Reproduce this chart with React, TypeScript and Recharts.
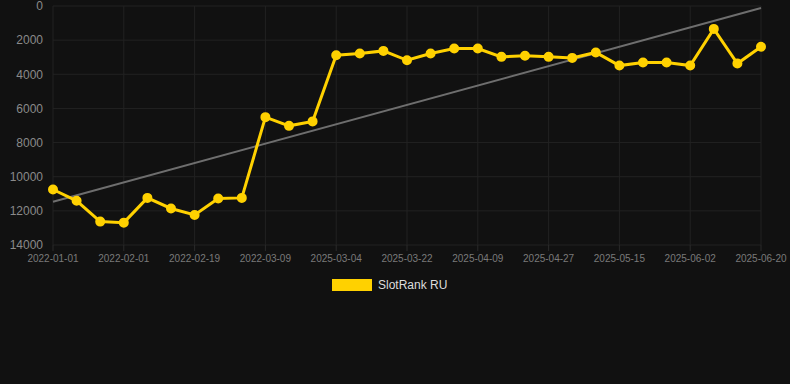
import { LineChart, Line, XAxis, YAxis, CartesianGrid, Legend } from 'recharts';

const dates = [
  '2022-01-01', '2022-01-11', '2022-01-21', '2022-02-01', '2022-02-07', '2022-02-13',
  '2022-02-19', '2022-02-25', '2022-03-03', '2022-03-09', '2022-03-15', '2022-03-21',
  '2025-03-04', '2025-03-10', '2025-03-16', '2025-03-22', '2025-03-28', '2025-04-03',
  '2025-04-09', '2025-04-15', '2025-04-21', '2025-04-27', '2025-05-03', '2025-05-09',
  '2025-05-15', '2025-05-21', '2025-05-27', '2025-06-02', '2025-06-08', '2025-06-14',
  '2025-06-20',
];

const rankRU = [
  10750, 11410, 12630, 12690, 11240, 11860, 12240, 11280, 11240, 6510, 7020, 6760,
  2880, 2780, 2630, 3180, 2780, 2490, 2490, 2980, 2910, 2980, 3040, 2720,
  3490, 3310, 3310, 3490, 1340, 3370, 2390,
];

// trend line endpoints (first and last category)
const trendStart = 11470;
const trendEnd = 120;

const yTicks = [0, 2000, 4000, 6000, 8000, 10000, 12000, 14000];

const YELLOW = '#FFD100';
const GRID = '#222222';
const FONT = "Arial, 'Liberation Sans', sans-serif";

const data = dates.map((date, i) => ({
  date,
  rank: rankRU[i],
  trend: i === 0 ? trendStart : i === dates.length - 1 ? trendEnd : null,
}));

function LegendBox() {
  return (
    <div style={{ display: 'flex', alignItems: 'center', fontFamily: FONT, height: 14 }}>
      <span style={{ width: 40, height: 12, background: YELLOW, display: 'inline-block' }} />
      <span style={{ marginLeft: 6, fontSize: 12, color: '#dddddd', lineHeight: '14px' }}>
        SlotRank RU
      </span>
    </div>
  );
}

export default function App() {
  return (
    <div
      style={{
        position: 'fixed',
        left: 0,
        top: 0,
        width: 790,
        height: 384,
        background: '#111111',
      }}
    >
      <LineChart
        width={790}
        height={300}
        data={data}
        margin={{ top: 6, right: 29, left: 0, bottom: 11 }}
      >
        <CartesianGrid stroke={GRID} />
        <XAxis
          dataKey="date"
          interval={2}
          height={30}
          axisLine={false}
          tickLine={{ stroke: '#2a2a2a' }}
          tickMargin={4}
          tick={{ fill: '#7a7a7a', fontSize: 10, fontFamily: FONT }}
        />
        <YAxis
          reversed
          domain={[0, 14000]}
          ticks={yTicks}
          interval={0}
          width={53}
          axisLine={false}
          tickLine={false}
          tickMargin={4}
          tick={{ fill: '#8a8a8a', fontSize: 12, fontFamily: FONT }}
        />
        <Legend
          verticalAlign="bottom"
          content={() => <LegendBox />}
          wrapperStyle={{ left: 332, top: 278, width: 'auto' }}
        />
        <Line
          dataKey="trend"
          stroke="#6e6e6e"
          strokeWidth={2}
          dot={false}
          connectNulls
          legendType="none"
          isAnimationActive={false}
        />
        <Line
          dataKey="rank"
          name="SlotRank RU"
          stroke={YELLOW}
          strokeWidth={3}
          dot={{ r: 4, fill: YELLOW, stroke: YELLOW, strokeWidth: 2 }}
          isAnimationActive={false}
        />
      </LineChart>
    </div>
  );
}
